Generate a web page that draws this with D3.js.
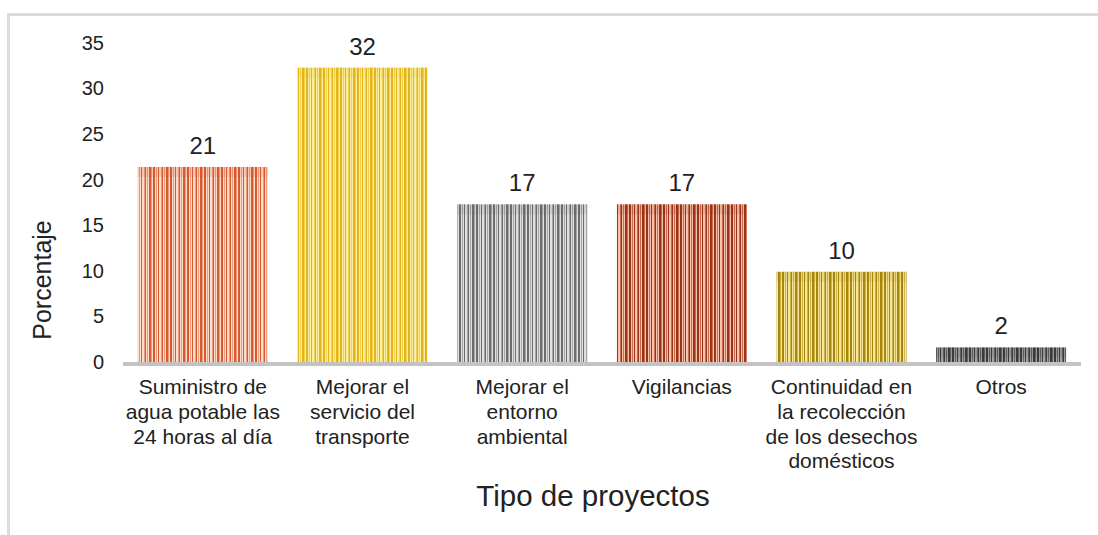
<!DOCTYPE html>
<html>
<head>
<meta charset="utf-8">
<script src="https://cdn.jsdelivr.net/npm/d3@7/dist/d3.min.js"></script>
<style>
  body { margin: 0; background: #fff; }
  text { font-family: "Liberation Sans", Arial, sans-serif; fill: #222; }
</style>
</head>
<body>
<div id="chart"></div>
<script>
const svgWidth = 1098
const svgHeight = 535

// Data
const categories = [
  "Suministro de\nagua potable las\n24 horas al día",
  "Mejorar el\nservicio del\ntransporte",
  "Mejorar el\nentorno\nambiental",
  "Vigilancias",
  "Continuidad en\nla recolección\nde los desechos\ndomésticos",
  "Otros"
]
const values = [21.4, 32.3, 17.3, 17.3, 9.9, 1.6]
const valueLabels = ["21", "32", "17", "17", "10", "2"]
const yTicks = [0, 5, 10, 15, 20, 25, 30, 35]

// stripe colours per bar: [dark, mid, light]
const stripeColors = [
  ["#d65a32", "#ee9d7c", "#fcdccb"],
  ["#e2b51e", "#f3d250", "#fcefa4"],
  ["#6c6c6c", "#a6a6a6", "#e0e0e0"],
  ["#9a3419", "#cc6c4e", "#f6c4af"],
  ["#a5860f", "#d2b444", "#f6e79c"],
  ["#3a3a3a", "#646464", "#a4a4a4"]
]

let margin = { left: 123, right: 17 }

let svg = d3
  .select("#chart")
  .append("svg")
  .attr("width", svgWidth)
  .attr("height", svgHeight)

// outer frame
svg
  .append("rect")
  .attr("x", 8.5)
  .attr("y", 14.5)
  .attr("width", 1300)
  .attr("height", 700)
  .attr("fill", "none")
  .attr("stroke", "#dcdcdc")
  .attr("stroke-width", 3)

let x = d3
  .scaleBand()
  .domain(d3.range(categories.length))
  .range([margin.left, svgWidth - margin.right])
  .paddingInner(0.186)
  .paddingOuter(0.093)

let y = d3
  .scaleLinear()
  .domain([0, 35])
  .range([362, 43])

// barcode-like stripe patterns
let defs = svg.append("defs")
const stripeSeq = [0, 2, 1, 2, 0, 2, 1, 0, 2, 1, 2, 0, 1, 2]
const stripeW = [2, 1, 1, 1, 1, 2, 1, 1, 1, 1, 1, 2, 1, 1]
stripeColors.forEach((cols, i) => {
  let p = defs
    .append("pattern")
    .attr("id", "stripes" + i)
    .attr("patternUnits", "userSpaceOnUse")
    .attr("width", d3.sum(stripeW))
    .attr("height", 10)
  let pos = 0
  stripeSeq.forEach((c, k) => {
    p.append("rect")
      .attr("x", pos)
      .attr("y", 0)
      .attr("width", stripeW[k])
      .attr("height", 10)
      .attr("fill", cols[c])
    pos += stripeW[k]
  })
})

// bars
let bars = svg.append("g")
values.forEach((v, i) => {
  bars
    .append("rect")
    .attr("x", x(i))
    .attr("y", y(v))
    .attr("width", x.bandwidth())
    .attr("height", y(0) - y(v))
    .attr("fill", `url(#stripes${i})`)
  // soft top edge
  bars
    .append("rect")
    .attr("x", x(i))
    .attr("y", y(v))
    .attr("width", x.bandwidth())
    .attr("height", Math.min(10, y(0) - y(v)))
    .attr("fill", stripeColors[i][0])
    .attr("opacity", 0.15)
})

// baseline
svg
  .append("line")
  .attr("x1", margin.left)
  .attr("x2", svgWidth - margin.right)
  .attr("y1", y(0) + 2)
  .attr("y2", y(0) + 2)
  .attr("stroke", "#c3c3c3")
  .attr("stroke-width", 4)

// y tick labels
let leftAxis = d3.axisLeft(y).tickValues(yTicks).tickSize(0).tickPadding(0)
let yAxis = svg
  .append("g")
  .attr("transform", "translate(104, 0)")
  .call(leftAxis)
yAxis.select(".domain").remove()
yAxis
  .selectAll("text")
  .style("font-size", "20px")
  .attr("fill", "#222")
  .style("font-family", "'Liberation Sans', Arial, sans-serif")

// value labels
svg
  .append("g")
  .selectAll("text")
  .data(valueLabels)
  .enter()
  .append("text")
  .attr("x", (d, i) => x(i) + x.bandwidth() / 2)
  .attr("y", (d, i) => y(values[i]) - 13)
  .attr("text-anchor", "middle")
  .style("font-size", "24px")
  .text(d => d)

// category labels
let catGroup = svg.append("g")
categories.forEach((c, i) => {
  let t = catGroup
    .append("text")
    .attr("x", x(i) + x.bandwidth() / 2)
    .attr("y", 394)
    .attr("text-anchor", "middle")
    .style("font-size", "21px")
  c.split("\n").forEach((line, k) => {
    t.append("tspan")
      .attr("x", x(i) + x.bandwidth() / 2)
      .attr("dy", k === 0 ? 0 : 24.8)
      .text(line)
  })
})

// axis titles
svg
  .append("text")
  .attr("x", 593)
  .attr("y", 506)
  .attr("text-anchor", "middle")
  .style("font-size", "29.5px")
  .text("Tipo de proyectos")

svg
  .append("text")
  .attr("transform", "translate(51, 280) rotate(-90)")
  .attr("text-anchor", "middle")
  .style("font-size", "25px")
  .text("Porcentaje")
</script>
</body>
</html>
